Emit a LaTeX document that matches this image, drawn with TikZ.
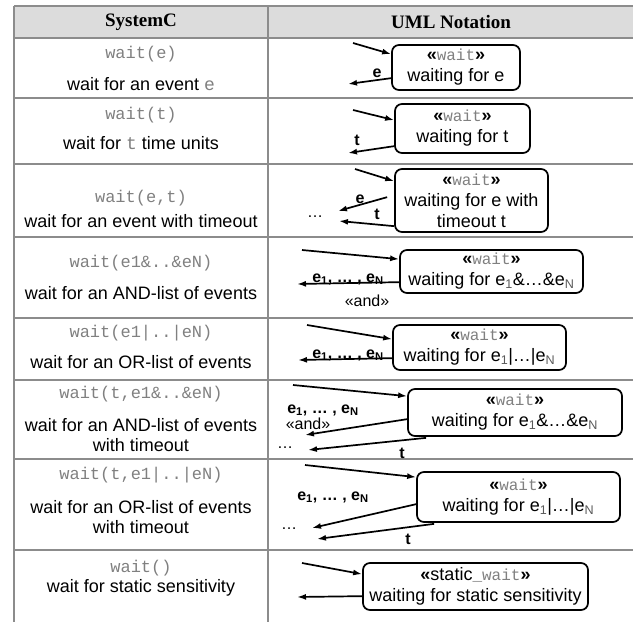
\documentclass[tikz,border=0pt]{standalone}
\usepackage{fontspec}
\setmainfont{Liberation Sans}
\newfontfamily\hdfont{Liberation Serif}
\newfontfamily\monofont{Liberation Mono}
\usetikzlibrary{arrows.meta,calc}
\definecolor{codegray}{HTML}{808080}
\definecolor{rulegray}{HTML}{8C8C8C}
\definecolor{headfill}{HTML}{DCDCDC}
\newcommand\cw[1]{{\monofont\color{codegray}#1}}
\newcommand\stereo[1]{\textbf{«}{\monofont\fontsize{16}{21}\selectfont\color{codegray}#1}\textbf{»}}
\newcommand\sub[1]{\textsubscript{#1}}
\newcommand\bsub[1]{\textsubscript{\textcolor{black!65}{#1}}}
\begin{document}
\begin{tikzpicture}[x=1pt,y=-1pt,
  rule/.style={draw=rulegray,line width=1.3pt},
  head/.style={font=\hdfont\bfseries\fontsize{19}{22}\selectfont},
  code/.style={font=\monofont\fontsize{17}{20}\selectfont,text=codegray,inner sep=0pt},
  desc/.style={font=\fontsize{18}{20}\selectfont,align=center,inner sep=0pt},
  state/.style={draw,rounded corners=7pt,line width=1.7pt,inner sep=0pt,
    align=center,font=\fontsize{18}{21}\selectfont},
  arr/.style={line width=1.7pt,-{Latex[length=9pt,width=6pt]}},
  lbl/.style={font=\bfseries\fontsize{16}{18}\selectfont,inner sep=0pt},
  plain/.style={font=\fontsize{16}{18}\selectfont,inner sep=0pt}]
\useasboundingbox (0,0) rectangle (633,622);

% table frame
\fill[headfill] (14,6) rectangle (633,38);
\foreach \y in {6,38,98,164,237,318,380,459,550}
  \draw[rule] (14,\y) -- (633,\y);
\draw[rule] (14,6) -- (14,622);
\draw[rule] (268,6) -- (268,622);

% header
\node[head] (h1) at (141,22) {SystemC};
\node[head] (h2) at (451,22) {UML Notation};

% left column: SystemC calls
\node[code] (c1) at (141,54) {wait(e)};
\node[desc] (d1) at (141,84) {wait for an event \cw{e}};
\node[code] (c2) at (141,115) {wait(t)};
\node[desc] (d2) at (141,143) {wait for \cw{t} time units};
\node[code] (c3) at (141,198) {wait(e,t)};
\node[desc] (d3) at (141,221) {wait for an event with timeout};
\node[code] (c4) at (141,263) {wait(e1\&..\&eN)};
\node[desc] (d4) at (141,293) {wait for an AND-list of events};
\node[code] (c5) at (141,333) {wait(e1|..|eN)};
\node[desc] (d5) at (141,362) {wait for an OR-list of events};
\node[code] (c6) at (141,394) {wait(t,e1\&..\&eN)};
\node[desc] (d6) at (141,435) {wait for an AND-list of events\\with timeout};
\node[code] (c7) at (141,475) {wait(t,e1|..|eN)};
\node[desc] (d7) at (141,517) {wait for an OR-list of events\\with timeout};
\node[code] (c8) at (141,568) {wait()};
\node[desc] (d8) at (141,588) {wait for static sensitivity};

% right column: wait states
\node[state,minimum width=128pt,minimum height=45pt] (b1) at (456,67.5)
  {\stereo{wait}\\waiting for e};
\node[state,minimum width=135pt,minimum height=49pt] (b2) at (462.5,128.5)
  {\stereo{wait}\\waiting for t};
\node[state,minimum width=153pt,minimum height=63pt] (b3) at (471.5,200.5)
  {\stereo{wait}\\waiting for e with\\timeout t};
\node[state,minimum width=183pt,minimum height=43pt] (b4) at (491.5,271.5)
  {\stereo{wait}\\waiting for e\bsub{1}\&…\&e\bsub{N}};
\node[state,minimum width=173pt,minimum height=45pt] (b5) at (479.5,347.5)
  {\stereo{wait}\\waiting for e\bsub{1}|…|e\bsub{N}};
\node[state,minimum width=214pt,minimum height=47pt] (b6) at (515,412.5)
  {\stereo{wait}\\waiting for e\bsub{1}\&…\&e\bsub{N}};
\node[state,minimum width=203pt,minimum height=50pt] (b7) at (518.5,497)
  {\stereo{wait}\\waiting for e\bsub{1}|…|e\bsub{N}};
\node[state,minimum width=225pt,minimum height=47pt] (b8) at (475.5,586.5)
  {\textbf{«}static\cw{\fontsize{16}{21}\selectfont\_wait}\textbf{»}\\waiting for static sensitivity};

% free ends of the transitions
\coordinate (i1) at (353,43);  \coordinate (o1) at (348,84);
\coordinate (i2) at (353,110); \coordinate (o2) at (348,153);
\coordinate (i3) at (355,169); \coordinate (o3a) at (338,211); \coordinate (o3b) at (339,221);
\coordinate (i4) at (302,250); \coordinate (o4) at (297,284);
\coordinate (i5) at (307,325); \coordinate (o5) at (298,360);
\coordinate (i6) at (293,385); \coordinate (o6a) at (305,435); \coordinate (o6b) at (308,450);
\coordinate (i7) at (305,465); \coordinate (o7a) at (312,528); \coordinate (o7b) at (317,539);
\coordinate (i8) at (302,563); \coordinate (o8) at (297,597);

% row 1
\draw[arr] (i1) -- ($(b1.north west)+(0,10)$);
\draw[arr] ($(b1.north west)+(0,34)$) -- (o1);
\node[lbl] (l1) at (377,73) {e};
% row 2
\draw[arr] (i2) -- ($(b2.north west)+(0,17)$);
\draw[arr] ($(b2.north west)+(0,43)$) -- (o2);
\node[lbl] (l2) at (357,140) {t};
% row 3
\draw[arr] (i3) -- ($(b3.north west)+(0,13)$);
\draw[arr] ($(b3.north west)+(-7,29)$) -- (o3a);
\draw[arr] ($(b3.north west)+(0,58)$) -- (o3b);
\node[lbl] (l3e) at (360,199) {e};
\node[lbl] (l3t) at (377,214) {t};
\node[plain] (m3) at (315,217) {…};
% row 4
\draw[arr] (i4) -- ($(b4.north west)+(0,10)$);
\draw[arr] ($(b4.north west)+(0,33)$) -- (o4);
\node[lbl,anchor=base] (l4) at (348,282) {e\sub{1}, … , e\sub{N}};
\node[plain] (a4) at (367,301) {«and»};
% row 5
\draw[arr] (i5) -- ($(b5.north west)+(0,15)$);
\draw[arr] ($(b5.north west)+(0,34)$) -- (o5);
\node[lbl,anchor=base] (l5) at (348,358) {e\sub{1}, … , e\sub{N}};
% row 6
\draw[arr] (i6) -- ($(b6.north west)+(0,8)$);
\draw[arr] ($(b6.north west)+(0,31)$) -- (o6a);
\draw[arr] ($(b6.south west)+(19,1)$) -- (o6b);
\node[lbl] (l6) at (323,410) {e\sub{1}, … , e\sub{N}};
\node[plain] (a6) at (308,424) {«and»};
\node[plain] (m6) at (285,448) {…};
\node[lbl] (l6t) at (402,453) {t};
% row 7
\draw[arr] (i7) -- ($(b7.north west)+(0,6)$);
\draw[arr] ($(b7.north west)+(0,33)$) -- (o7a);
\draw[arr] ($(b7.south west)+(18,1)$) -- (o7b);
\node[lbl] (l7) at (333,497) {e\sub{1}, … , e\sub{N}};
\node[plain] (m7) at (289,529) {…};
\node[lbl] (l7t) at (408,539) {t};
% row 8
\draw[arr] (i8) -- ($(b8.north west)+(0,12)$);
\draw[arr] ($(b8.north west)+(0,34)$) -- (o8);
\end{tikzpicture}
\end{document}
